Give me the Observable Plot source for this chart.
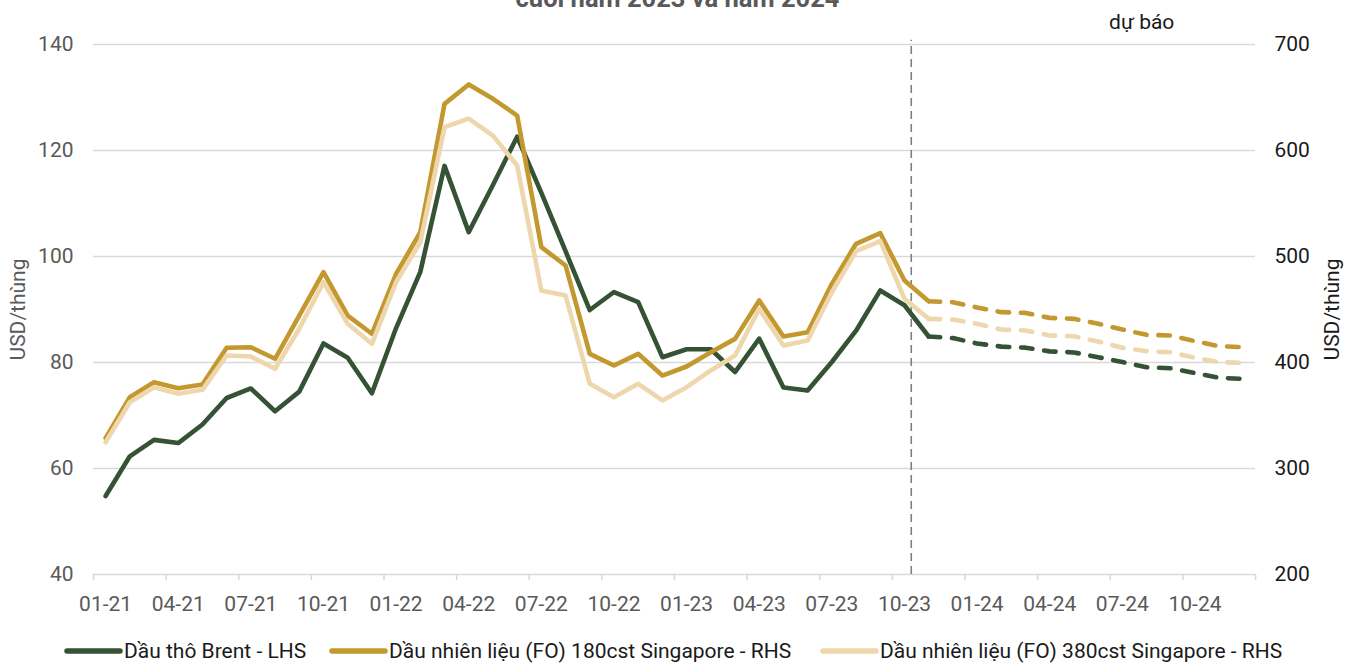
<!DOCTYPE html>
<html>
<head>
<meta charset="utf-8">
<script src="https://cdn.jsdelivr.net/npm/d3@7"></script>
<script src="https://cdn.jsdelivr.net/npm/@observablehq/plot@0.6"></script>
<style>
  html, body { margin: 0; padding: 0; background: #fff; overflow: hidden; }
  #wrap { position: relative; width: 1355px; height: 664px; font-family: Roboto, "Noto Sans", sans-serif; }
  #title { position: absolute; left: 0; width: 1355px; top: -14px; text-align: center; font-weight: bold; font-size: 25.5px; line-height: 24px; color: #595959; white-space: nowrap; }
  #chart { position: absolute; left: 0; top: 0; }
  #legend { position: absolute; left: 0; top: 638px; width: 1355px; height: 26px; font-size: 21px; color: #1a1a1a; }
  .item { position: absolute; top: 0; display: flex; align-items: center; height: 26px; white-space: nowrap; }
  .item svg { margin-right: 1px; }
</style>
</head>
<body>
<div id="wrap">
  <div id="chart"></div>
  <div id="title">cuối năm 2023 và năm 2024</div>
  <div id="legend"></div>
</div>
<script>
// ---- Data ----
const months = ["01-21","02-21","03-21","04-21","05-21","06-21","07-21","08-21","09-21","10-21","11-21","12-21",
  "01-22","02-22","03-22","04-22","05-22","06-22","07-22","08-22","09-22","10-22","11-22","12-22",
  "01-23","02-23","03-23","04-23","05-23","06-23","07-23","08-23","09-23","10-23","11-23","12-23",
  "01-24","02-24","03-24","04-24","05-24","06-24","07-24","08-24","09-24","10-24","11-24","12-24"];
const xTickLabels = ["01-21","04-21","07-21","10-21","01-22","04-22","07-22","10-22","01-23","04-23","07-23","10-23","01-24","04-24","07-24","10-24"];
const leftTicks = [40, 60, 80, 100, 120, 140];      // USD/thùng (LHS)
const rightTicks = [200, 300, 400, 500, 600, 700];   // RHS

const seriesNames = ["Dầu thô Brent - LHS", "Dầu nhiên liệu (FO) 180cst Singapore - RHS", "Dầu nhiên liệu (FO) 380cst Singapore - RHS"];
const seriesColors = ["#355234", "#C3992F", "#EED6AD"];

// actual values 01-21 .. 11-23
const brentActual = [54.8, 62.3, 65.4, 64.8, 68.3, 73.3, 75.1, 70.8, 74.5, 83.6, 80.9, 74.2,
  86.5, 97.1, 117.1, 104.6, 113.5, 122.6, 112.0, 101.0, 89.9, 93.3, 91.4, 81.0,
  82.5, 82.5, 78.2, 84.5, 75.3, 74.7, 80.1, 86.0, 93.6, 90.8, 84.9];
const fo180Actual = [328.6, 367.3, 381.4, 375.8, 379.2, 413.9, 414.4, 403.5, 444.3, 485.2, 444.3, 427.1,
  483.6, 522.9, 644.0, 662.3, 648.8, 633.0, 508.8, 491.5, 408.2, 397.2, 408.2, 387.7,
  396.2, 409.7, 422.3, 458.5, 424.5, 428.6, 474.2, 512.0, 522.0, 477.4, 457.8];
const fo380Actual = [324.8, 362.5, 376.7, 370.5, 374.2, 406.6, 405.7, 394.1, 431.9, 475.8, 436.5, 417.6,
  475.8, 513.5, 622.0, 630.0, 614.0, 585.8, 468.0, 463.2, 379.9, 367.3, 379.9, 364.2,
  376.7, 392.5, 406.6, 450.6, 416.0, 420.8, 466.3, 505.0, 514.5, 460.1, 441.2];
// forecast values 11-23 .. 12-24
const brentForecast = [84.9, 84.6, 83.6, 83.0, 82.8, 82.1, 81.9, 81.0, 80.1, 79.1, 78.9, 78.0, 77.1, 76.9];
const fo180Forecast = [457.8, 456.9, 452.0, 447.5, 446.8, 442.1, 441.2, 436.5, 431.1, 426.1, 425.5, 420.1, 415.4, 414.4];
const fo380Forecast = [441.2, 440.6, 436.5, 431.1, 430.2, 425.5, 424.8, 419.8, 413.9, 410.7, 409.7, 404.4, 400.3, 399.7];
const forecastStartMonth = "11-23";
const forecastMarker = 33.28;    // position of "dự báo" divider (month index)
const forecastLabel = "dự báo";
const forecastLabelPos = 42.8;
const axisTitle = "USD/thùng";

// ---- Build tables ----
const fStart = months.indexOf(forecastStartMonth);
const rhsRatio = rightTicks[0] / leftTicks[0]; // RHS = LHS * 5
function rows(values, offset, s, scale) {
  return values.map((v, k) => ({i: offset + k, month: months[offset + k], v, y: v / scale, s}));
}
const actual = [
  ...rows(brentActual, 0, 0, 1),
  ...rows(fo180Actual, 0, 1, rhsRatio),
  ...rows(fo380Actual, 0, 2, rhsRatio)
];
const forecast = [
  ...rows(brentForecast, fStart, 0, 1),
  ...rows(fo180Forecast, fStart, 1, rhsRatio),
  ...rows(fo380Forecast, fStart, 2, rhsRatio)
];
const tickIdx = xTickLabels.map(l => months.indexOf(l));
const boundaries = d3.range(0, months.length + 1, 3).map(k => k - 0.5);

const lineMarks = [];
for (const s of [0, 1, 2]) {
  lineMarks.push(Plot.line(actual.filter(d => d.s === s), {x: "i", y: "y", stroke: seriesColors[s], strokeWidth: 4.6, strokeLinejoin: "round", strokeLinecap: "round"}));
  lineMarks.push(Plot.line(forecast.filter(d => d.s === s), {x: "i", y: "y", stroke: seriesColors[s], strokeWidth: 4.6, strokeLinejoin: "round", strokeLinecap: "round", strokeDasharray: "11.5,11.8"}));
}

const chart = Plot.plot({
  width: 1355,
  height: 620,
  marginLeft: 93,
  marginRight: 100,
  marginTop: 44,
  marginBottom: 46,
  style: {fontFamily: "Roboto, 'Noto Sans', sans-serif", fontSize: "21px", background: "transparent", overflow: "visible"},
  x: {domain: [-0.5, months.length - 0.5], axis: null},
  y: {domain: [leftTicks[0], leftTicks[leftTicks.length - 1]], axis: null},
  marks: [
    Plot.gridY(leftTicks, {stroke: "#d9d9d9", strokeOpacity: 1, strokeWidth: 1.6}),
    Plot.axisX(boundaries, {tickSize: 6, tickFormat: () => "", stroke: "#d9d9d9", strokeWidth: 1.6, label: null}),
    Plot.axisX(tickIdx, {tickSize: 0, tickPadding: 22, tickFormat: (d, k) => xTickLabels[k], fill: "#595959", label: null}),
    Plot.axisY(leftTicks, {anchor: "left", tickSize: 0, tickPadding: 20, fill: "#595959", label: null}),
    Plot.axisY(leftTicks, {anchor: "right", tickSize: 0, tickPadding: 19, tickFormat: (d, k) => rightTicks[k], fill: "#1a1a1a", label: null}),
    Plot.text([axisTitle], {frameAnchor: "left", dx: -75, rotate: -90, textAnchor: "middle", text: d => d, fill: "#595959"}),
    Plot.text([axisTitle], {frameAnchor: "right", dx: 77, rotate: -90, textAnchor: "middle", text: d => d, fill: "#1a1a1a"}),
    Plot.ruleX([forecastMarker], {y1: leftTicks[0], y2: 140.8, stroke: "#7f7f7f", strokeWidth: 1.6, strokeDasharray: "8,5"}),
    Plot.text([forecastLabel], {x: forecastLabelPos, y: 140, dy: -22, text: d => d, fill: "#1a1a1a"}),
    ...lineMarks
  ]
});
document.getElementById("chart").appendChild(chart);

// ---- Legend ----
const legendLeft = [63, 328, 819];
const legend = document.getElementById("legend");
seriesNames.forEach((name, s) => {
  const item = document.createElement("div");
  item.className = "item";
  item.style.left = legendLeft[s] + "px";
  item.innerHTML = `<svg width="60" height="12"><line x1="4" y1="6" x2="57" y2="6" stroke="${seriesColors[s]}" stroke-width="5.5" stroke-linecap="round"/></svg><span>${name}</span>`;
  legend.appendChild(item);
});
</script>
</body>
</html>
